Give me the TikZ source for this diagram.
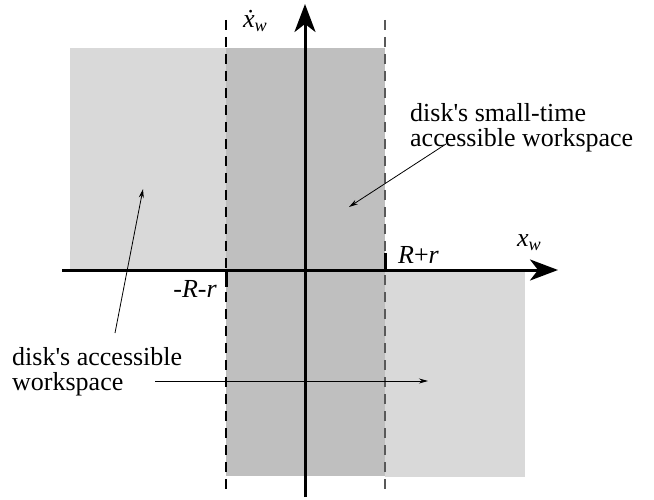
\documentclass[tikz,border=0pt]{standalone}
\usepackage{fontspec}
\setmainfont{Liberation Serif}
\usetikzlibrary{arrows.meta}
\definecolor{lightws}{gray}{0.85}
\definecolor{darkws}{gray}{0.75}
\definecolor{dashgray}{gray}{0.35}
\begin{document}
\begin{tikzpicture}[x=1pt,y=-1pt,
  lab/.style={font=\fontsize{26}{25}\selectfont, inner sep=0pt, align=left},
  axis/.style={line width=3pt, -{Stealth[length=28pt,width=21pt,inset=8pt]}},
  pointer/.style={line width=0.8pt, -{Stealth[length=9pt,width=5pt]}},
  bound/.style={line width=1.2pt, dash pattern=on 10pt off 7pt},
  tick/.style={line width=3pt}]
\useasboundingbox (0,0) rectangle (654,500);
% regions
\fill[lightws] (70,48) rectangle (226,270);
\fill[lightws] (385,270) rectangle (525,477);
\fill[darkws] (226,48) rectangle (385,476);
% boundaries
\coordinate (lt) at (226,20); \coordinate (lb) at (226,494);
\coordinate (rt) at (385,20); \coordinate (rb) at (385,494);
\draw[bound] (lt) -- (lb);
\draw[bound, dashgray] (rt) -- (rb);
% ticks
\coordinate (tl0) at (226,270); \coordinate (tl1) at (226,287);
\coordinate (tr0) at (385,270); \coordinate (tr1) at (385,253);
\draw[tick] (tl0) -- (tl1);
\draw[tick] (tr0) -- (tr1);
% axes
\coordinate (xs) at (62,270); \coordinate (xe) at (558,270);
\coordinate (ys) at (305,497); \coordinate (ye) at (305,4);
\draw[axis] (xs) -- (xe);
\draw[axis] (ys) -- (ye);
% axis labels
\node[lab, anchor=base west] (xdot) at (243,28) {\itshape \.{x}\textsubscript{w}};
\node[lab, anchor=base west] (xw) at (517,247) {\itshape x\textsubscript{w}};
\node[lab, anchor=base west] (rp) at (398,263) {\textit{R}+\textit{r}};
\node[lab, anchor=base east] (rm) at (217,297) {-\textit{R}-\textit{r}};
% annotations
\node[lab, anchor=north west] (stl) at (410,103) {disk\textquotesingle s small-time\\accessible workspace};
\node[lab, anchor=north west] (acl) at (12,347) {disk\textquotesingle s accessible\\workspace};
\coordinate (st0) at (446,144); \coordinate (st1) at (349,207);
\draw[pointer] (st0) -- (st1);
\coordinate (a0) at (115,333); \coordinate (a1) at (143,189);
\draw[pointer] (a0) -- (a1);
\coordinate (b0) at (155,381); \coordinate (b1) at (428,381);
\draw[pointer] (b0) -- (b1);
\end{tikzpicture}
\end{document}
